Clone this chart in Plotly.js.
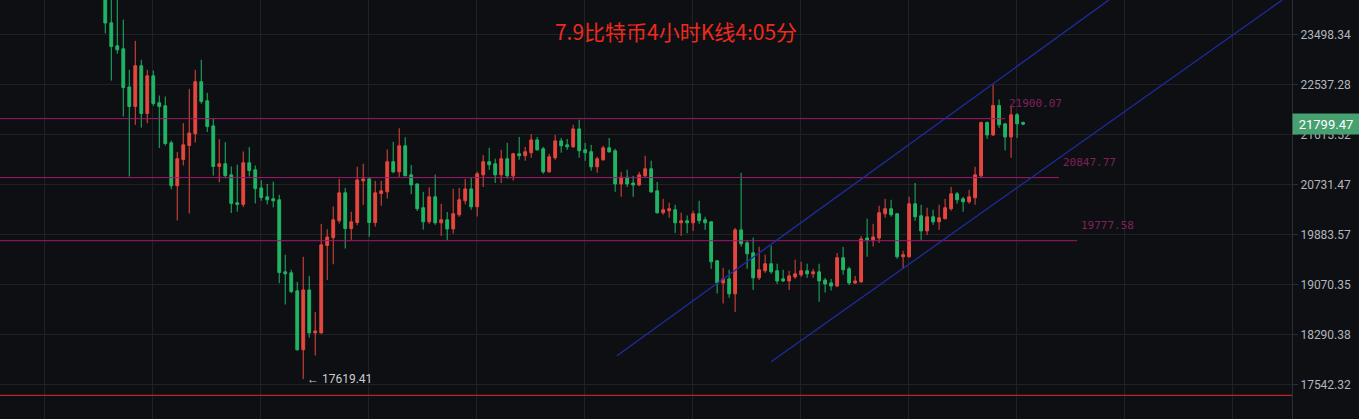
<!DOCTYPE html>
<html>
<head>
<meta charset="utf-8">
<script src="https://cdn.plot.ly/plotly-3.0.1.min.js"></script>
<style>
html,body{margin:0;padding:0;background:#0e0f12;}
#chart{width:1359px;height:419px;}
</style>
</head>
<body>
<div id="chart"></div>
<script>
// ---- data (4h BTC candles) ----
const openP = [
24320, 23725, 23273, 23216, 22488, 22124, 22889, 21995, 22697, 22193,
22137, 21462, 20708, 21166, 21414, 21627, 22587, 22229, 21768, 21043,
21090, 20896, 20414, 20386, 21108, 20984, 20669, 20516, 20482, 20465,
19270, 19254, 18966, 18055, 18981, 18311, 18311, 19698, 19828, 20109,
20584, 19979, 20080, 20790, 20825, 20080, 20572, 20601, 21126, 20949,
21409, 20896, 20737, 20330, 20092, 20516, 20075, 20126, 19973, 20211,
20448, 20652, 20347, 20896, 21126, 21090, 20896, 21179, 20878, 21267,
21232, 21285, 21515, 21356, 20949, 21196, 21497, 21426, 21391, 21713,
21338, 21303, 21037, 21161, 21373, 21320, 20737, 20855, 20754, 20720,
20878, 21002, 20618, 20245, 20279, 20296, 20075, 20109, 20075, 20228,
20126, 20092, 19449, 19092, 19157, 18919, 19957, 19742, 19579, 19173,
19287, 19401, 19287, 19157, 19124, 19189, 19222, 19287, 19238, 19270,
19140, 19092, 19044, 19498, 19319, 19092, 19108, 19823, 19791, 19823,
20228, 20313, 20228, 19514, 19514, 20397, 20194, 19940, 20177, 20092,
20143, 20313, 20567, 20482, 20431, 20499, 20878, 21829, 21603, 22143,
21805, 21568, 21971, 21829
];
const highP = [
24400, 24300, 24250, 23787, 22812, 23370, 23004, 22812, 22799, 22327,
22309, 21502, 21297, 21818, 22451, 22812, 23004, 22377, 21903, 21527,
21474, 21043, 21073, 21308, 21386, 21060, 20802, 20737, 20777, 20550,
19547, 19303, 19108, 19514, 19205, 18634, 20058, 19968, 20352, 20825,
20669, 20262, 21037, 21090, 20848, 20790, 20790, 21343, 21479, 21726,
21562, 21067, 20749, 20601, 20681, 20901, 20397, 20257, 20652, 20669,
20825, 20843, 20954, 21244, 21373, 21179, 21338, 21462, 21285, 21568,
21391, 21621, 21568, 21391, 21267, 21603, 21550, 21532, 21787, 21879,
21462, 21426, 21214, 21409, 21550, 21356, 20949, 20984, 20878, 20949,
21232, 21143, 20772, 20482, 20414, 20380, 20245, 20199, 20279, 20448,
20177, 20100, 19455, 19335, 19303, 19990, 20931, 19775, 19828, 19677,
19547, 19698, 19401, 19303, 19287, 19466, 19433, 19401, 19319, 19401,
19173, 19157, 19575, 19677, 19352, 19205, 19856, 20143, 20058, 20364,
20482, 20465, 20235, 19612, 20516, 20754, 20380, 20330, 20296, 20380,
20482, 20686, 20601, 20516, 20635, 21037, 21848, 21848, 22530, 22253,
21824, 22119, 22003, 21848
];
const lowP = [
23518, 22607, 23120, 21940, 20866, 21787, 21737, 21818, 22137, 21368,
21414, 20647, 20114, 21060, 20233, 21467, 22174, 21658, 20883, 20767,
20838, 20240, 20262, 20341, 20866, 20403, 20448, 20386, 20335, 19087,
18752, 18930, 18045, 17619.41, 18240, 17970, 18306, 19140, 19392, 20063,
19649, 19791, 20036, 20375, 19845, 20012, 20364, 20487, 20926, 20861,
20878, 20562, 20274, 19962, 20058, 20041, 19856, 19791, 19894, 20177,
20386, 20296, 20182, 20686, 20984, 20754, 20754, 20830, 20795, 21161,
21143, 21196, 21320, 20914, 20931, 21161, 21285, 21338, 21373, 21196,
21143, 20967, 20931, 21143, 21285, 20601, 20516, 20686, 20516, 20703,
20861, 20584, 20228, 20211, 20160, 19906, 19856, 19901, 19940, 20058,
19957, 19319, 18924, 18768, 18857, 18634, 19677, 19319, 18981, 19140,
19254, 19238, 19075, 19108, 18981, 19157, 19189, 19173, 19173, 18794,
18939, 18971, 19024, 19222, 19059, 19075, 19100, 19514, 19682, 19742,
20160, 20177, 19482, 19319, 19498, 20109, 19791, 19872, 20041, 19957,
20135, 20279, 20397, 20262, 20397, 20380, 20838, 21532, 21585, 21732,
21326, 21196, 21550, 21781
];
const closeP = [
23721, 23260, 23197, 22475, 22124, 22889, 21995, 22697, 22180, 22124,
21449, 20708, 21179, 21426, 21639, 22587, 22217, 21756, 21043, 21090,
20883, 20403, 20386, 21108, 20972, 20657, 20504, 20465, 20448, 19259,
19238, 18955, 18055, 18981, 18311, 18342, 19710, 19840, 20126, 20584,
19979, 20092, 20807, 20825, 20080, 20584, 20618, 21126, 20949, 21409,
20878, 20720, 20313, 20092, 20516, 20075, 20126, 19973, 20228, 20465,
20652, 20347, 20914, 21126, 21073, 20896, 21179, 20878, 21267, 21232,
21303, 21515, 21338, 20949, 21214, 21497, 21409, 21391, 21713, 21320,
21285, 21037, 21179, 21373, 21303, 20737, 20855, 20737, 20720, 20896,
21002, 20601, 20245, 20296, 20313, 20075, 20109, 20075, 20228, 20109,
20075, 19433, 19092, 19157, 18919, 19957, 19726, 19563, 19173, 19303,
19401, 19270, 19124, 19124, 19205, 19238, 19287, 19238, 19270, 19124,
19075, 19044, 19498, 19303, 19092, 19124, 19807, 19791, 19840, 20245,
20313, 20211, 19514, 19547, 20397, 20177, 19940, 20177, 20092, 20160,
20330, 20567, 20465, 20431, 20516, 20896, 21829, 21603, 22143, 21787,
21568, 21971, 21805, 21799.47
];

// horizontal price levels and where each drawn line ends (candle index)
const levelValues = [21900.07, 20847.77, 19777.58];
const levelLabels = ['21900.07', '20847.77', '19777.58'];
const levelEnds   = [150, 159, 162];

// rising channel (candle index, price) endpoints
const channelUpperX = [85.3, 167.3];
const channelUpperY = [17966, 24181];
const channelLowerX = [111.0, 196.2];
const channelLowerY = [17876, 24181];

// bottom red line
const bottomLineValue = 17380;

// lowest point marker
const lowIndex = 33;
const lowValue = 17619.41;
const lowLabel = '\u2190 17619.41';

// last price
const lastPrice = 21799.47;
const lastPriceLabel = '21799.47';

// y-axis ticks
const yTickVals = [23498.34, 22537.28, 21615.52, 20731.47, 19883.57, 19070.35, 18290.38, 17542.32];
const yTickText = ['23498.34', '22537.28', '21615.52', '20731.47', '19883.57', '19070.35', '18290.38', '17542.32'];

const titleText = '7.9比特币4小时K线4:05分';

// ---- build ----
const xIdx = openP.map((_, i) => i);
const xMin = -17.55, xMax = 197.83;

const gridX = [];
for (let g = -10.17; g < xMax; g += 18) gridX.push(g);

const RED = '#e5473f', GREEN = '#20b565';

const traces = [];

// level lines
levelValues.forEach((v, k) => {
  traces.push({
    type: 'scatter', mode: 'lines',
    x: [xMin - 5, levelEnds[k]], y: [v, v],
    line: {color: '#a3186f', width: 1}, hoverinfo: 'skip'
  });
});

// bottom red line
traces.push({
  type: 'scatter', mode: 'lines',
  x: [xMin - 5, xMax + 5], y: [bottomLineValue, bottomLineValue],
  line: {color: '#b8262d', width: 1.2}, hoverinfo: 'skip'
});

// channel lines
traces.push({
  type: 'scatter', mode: 'lines', x: channelUpperX, y: channelUpperY,
  line: {color: '#1f2c9e', width: 1.3}, hoverinfo: 'skip'
});
traces.push({
  type: 'scatter', mode: 'lines', x: channelLowerX, y: channelLowerY,
  line: {color: '#1f2c9e', width: 1.3}, hoverinfo: 'skip'
});

// candles
traces.push({
  type: 'candlestick',
  x: xIdx, open: openP, high: highP, low: lowP, close: closeP,
  increasing: {line: {color: RED, width: 1}, fillcolor: RED},
  decreasing: {line: {color: GREEN, width: 1}, fillcolor: GREEN},
  whiskerwidth: 0,
  hoverinfo: 'skip'
});

const annotations = [];
levelValues.forEach((v, k) => {
  annotations.push({
    x: levelEnds[k], y: Math.log10(v), xref: 'x', yref: 'y',
    text: levelLabels[k], showarrow: false,
    xanchor: 'left', yanchor: 'middle', xshift: 2, yshift: 15,
    font: {family: 'DejaVu Sans Mono', size: 11, color: '#82205f'}
  });
});
annotations.push({
  x: lowIndex, y: Math.log10(lowValue), xref: 'x', yref: 'y',
  text: lowLabel, showarrow: false, xanchor: 'left', yanchor: 'middle', xshift: 2,
  font: {family: 'Roboto', size: 12, color: '#c9ccd3'}
});
annotations.push({
  x: 1, y: Math.log10(lastPrice), xref: 'paper', yref: 'y',
  text: lastPriceLabel, showarrow: false, xanchor: 'left', yanchor: 'middle',
  bgcolor: '#47a070', width: 62, height: 16, borderpad: 2, align: 'center',
  font: {family: 'Roboto', size: 13, color: '#ffffff'}
});

const layout = {
  width: 1359, height: 419,
  paper_bgcolor: '#0e0f12', plot_bgcolor: '#0e0f12',
  margin: {l: 0, r: 67, t: 0, b: 0},
  showlegend: false, hovermode: false,
  boxgap: 0.33,
  font: {family: 'Roboto', color: '#b2b5be'},
  title: {
    text: titleText, x: 676 / 1359, y: 1 - 33 / 419,
    xref: 'container', yref: 'container', xanchor: 'center', yanchor: 'middle',
    font: {family: 'Noto Sans CJK SC', size: 21, color: '#ee2a1e'}
  },
  xaxis: {
    range: [xMin, xMax], rangeslider: {visible: false},
    showticklabels: false, tickmode: 'array', tickvals: gridX,
    showgrid: true, gridcolor: '#1f2126', gridwidth: 1,
    zeroline: false, showline: false, ticks: '', fixedrange: true
  },
  yaxis: {
    type: 'log', side: 'right',
    range: [Math.log10(17041.3), Math.log10(24181.2)],
    tickmode: 'array', tickvals: yTickVals, ticktext: yTickText,
    showgrid: true, gridcolor: '#1f2126', gridwidth: 1,
    ticks: 'outside', ticklen: 5, tickcolor: '#2a2d33',
    showline: true, linecolor: '#2a2d33', linewidth: 1,
    tickfont: {family: 'Roboto', size: 12, color: '#b2b5be'},
    zeroline: false, fixedrange: true
  },
  annotations: annotations
};

Plotly.newPlot('chart', traces, layout, {staticPlot: true, displayModeBar: false});
</script>
</body>
</html>
